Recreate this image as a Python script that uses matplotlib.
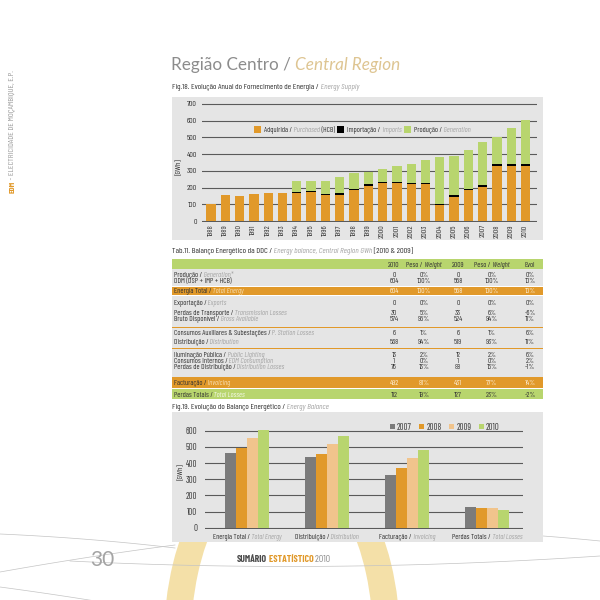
import matplotlib
matplotlib.use("Agg")
import matplotlib.pyplot as plt
import numpy as np
from matplotlib import font_manager
from matplotlib.patches import Annulus, Rectangle

W = H = 600

# ---- Fig.18: annual energy supply (GWh) ----
YEARS = ["1988", "1989", "1990", "1991", "1992", "1993", "1994", "1995", "1996",
         "1997", "1998", "1999", "2000", "2001", "2002", "2003", "2004", "2005",
         "2006", "2007", "2008", "2009", "2010"]
PURCHASED = [100, 155, 150, 163, 167, 167, 165, 175, 155, 158, 185, 212, 225,
             225, 222, 222, 93, 143, 183, 204, 327, 327, 327]
IMPORTS = [0, 0, 0, 0, 0, 0, 7, 7, 8, 8, 7, 8, 7, 7, 8, 8, 8, 10, 7, 10, 12, 12, 12]
GENERATION = [0, 0, 0, 0, 0, 0, 66, 60, 79, 96, 93, 75, 81, 98, 113, 137, 280,
              238, 237, 256, 161, 219, 265]

# ---- Tab.11: energy balance ----
ROW_PT = ["Produção", "DDM (DSP + IMP + HCB)", "Energia Total", "Exportação",
          "Perdas de Transporte", "Bruto Disponível", "Consumos Auxiliares & Subestações",
          "Distribuição", "Iluminação Pública", "Consumos Internos",
          "Perdas de Distribuição", "Facturação", "Perdas Totais"]
ROW_EN = ["Generation*", "", "Total Energy", "Exports", "Transmission Losses",
          "Gross Available", "P. Station Losses", "Distribution", "Public Lighting",
          "EDM Consumption", "Distribution Losses", "Invoicing", "Total Losses"]
VAL_2010 = [0, 604, 604, 0, 30, 574, 6, 568, 13, 1, 76, 492, 112]
WEIGHT_2010 = [0, 100, 100, 0, 5, 95, 1, 94, 2, 0, 13, 81, 19]
VAL_2009 = [0, 558, 558, 0, 33, 524, 6, 519, 12, 1, 88, 431, 127]
WEIGHT_2009 = [0, 100, 100, 0, 6, 94, 1, 93, 2, 0, 16, 77, 23]
EVOL = [0, 10, 10, 0, -6, 11, 6, 11, 6, 2, -1, 14, -2]

# ---- Fig.19: energy balance evolution ----
BAL_YEARS = ["2007", "2008", "2009", "2010"]
BAL_PT = ["Energia Total", "Distribuição", "Facturação", "Perdas Totais"]
BAL_EN = ["Total Energy", "Distribution", "Invoicing", "Total Losses"]
BAL_VALUES = {
    "2007": [465, 437, 327, 131],
    "2008": [494, 455, 368, 120],
    "2009": [556, 515, 429, 122],
    "2010": [602, 568, 478, 112],
}

ORANGE = "#E1992A"
GREEN = "#B8D56E"
GRAY_BAR = "#7B7B7B"
TAN = "#F1C48C"
PANEL = "#E5E5E5"
DARK = "#333333"
EN_GRAY = "#A5A5A5"


def pick(*names):
    avail = {f.name for f in font_manager.fontManager.ttflist}
    for n in names:
        if n in avail:
            return n
    return "DejaVu Sans"


NARROW = pick("Barlow Condensed", "Barlow Semi Condensed", "Asap Condensed", "Archivo Narrow")
STRETCH = "condensed" if NARROW != "DejaVu Sans" else "normal"
LIGHT = pick("Lato", "Open Sans", "Roboto", "DejaVu Sans")
plt.rcParams["font.family"] = [NARROW, "DejaVu Sans"]
plt.rcParams["font.stretch"] = STRETCH

fig = plt.figure(figsize=(6, 6), dpi=100)
page = fig.add_axes([0, 0, 1, 1])
page.set_xlim(0, W)
page.set_ylim(H, 0)
page.axis("off")
renderer = fig.canvas.get_renderer()


def text_width(s, size, family=None, weight="normal", style="normal"):
    t = page.text(0, 0, s, fontsize=size, weight=weight, style=style,
                  family=family or [NARROW, "DejaVu Sans"], fontstretch=STRETCH)
    w = t.get_window_extent(renderer).width
    t.remove()
    return w


def fit_size(s, target, family=None, weight="normal", cap=None):
    size = 10 * target / text_width(s, 10, family, weight)
    return min(size, cap) if cap else size


# font sizes calibrated on widths
TS = fit_size("Consumos Auxiliares & Subestações / P. Station Losses", 142, cap=6.0)
CAP_S = fit_size("Fig.18. Evolução Anual do Fornecimento de Energia / Energy Supply", 190, cap=6.2)
LEG_S = fit_size("Adquirida / Purchased (HCB)", 72, cap=6.0)
XL_S = fit_size("Energia Total / Total Energy", 70, cap=6.2)
TICK_S = min(TS * 1.05, 6.0)
TICK2_S = min(TS * 1.15, 6.4)


def px_axes(left, top, right, bottom):
    ax = fig.add_axes([left / W, 1 - bottom / H, (right - left) / W, (bottom - top) / H])
    ax.patch.set_alpha(0)
    return ax


def rich_text(x, y, parts, size, ha="left", family=None, zorder=5):
    # parts: (text, color, style, weight); y is the visual centre of capitals
    items = []
    cursor = 0.0
    base = y + 0.49 * size
    for s, color, style, weight in parts:
        t = page.text(x + cursor, base, s, fontsize=size, color=color, style=style,
                      weight=weight, ha="left", va="baseline", zorder=zorder,
                      family=family or [NARROW, "DejaVu Sans"], fontstretch=STRETCH)
        cursor += t.get_window_extent(renderer).width
        items.append(t)
    shift = {"left": 0.0, "center": cursor / 2, "right": cursor}[ha]
    for t in items:
        tx, ty = t.get_position()
        t.set_position((tx - shift, ty))
    return cursor


def bilingual(pt, en, pt_color=DARK, en_color=EN_GRAY):
    if not en:
        return [(pt, pt_color, "normal", "normal")]
    return [(pt + " /", pt_color, "normal", "normal"), (" " + en, en_color, "italic", "normal")]


def legend_item(x, y, color, parts, box, size, gap_in=3.0):
    page.add_patch(Rectangle((x, y - box / 2), box, box, color=color, lw=0, zorder=5))
    return box + gap_in + rich_text(x + box + gap_in, y, parts, size)


def curve(p0, p1, p2):
    t = np.linspace(0, 1, 80)[:, None]
    pts = (1 - t) ** 2 * np.array(p0) + 2 * (1 - t) * t * np.array(p1) + t ** 2 * np.array(p2)
    page.plot(pts[:, 0], pts[:, 1], color="#C4C4C4", lw=0.5, zorder=0.5)


# ---- page decoration ----
page.add_patch(Annulus((282, 640), (118, 200), 27, color="#F4E0A8", lw=0, zorder=0.2))
curve((0, 534), (90, 538), (175, 548))
curve((0, 572), (90, 556), (175, 545))
curve((70, 561), (330, 574), (600, 556))
curve((543, 536), (570, 538), (600, 541))
curve((0, 587), (60, 595), (126, 606))

# left vertical brand text
BRAND_S = fit_size("EDM - ELECTRICIDADE DE MOÇAMBIQUE, E.P.", 138, cap=6.0)
t_edm = page.text(12.3, 193, "EDM", rotation=90, fontsize=BRAND_S, weight="bold",
                  color=ORANGE, ha="center", va="bottom")
h_edm = t_edm.get_window_extent(renderer).height
page.text(12.3, 193 - h_edm, " - ELECTRICIDADE DE MOÇAMBIQUE, E.P.", rotation=90,
          fontsize=BRAND_S, color="#9A9A9A", ha="center", va="bottom")

# title
rich_text(171, 64, [("Região Centro /", "#8C8C8C", "normal", "normal"),
                    (" Central Region", "#DEC592", "italic", "normal")],
          size=12.3, family=[LIGHT, "DejaVu Sans"])

# ---- Fig.18 ----
rich_text(172, 86, bilingual("Fig.18. Evolução Anual do Fornecimento de Energia", "Energy Supply"), CAP_S)
page.add_patch(Rectangle((172, 97), 543 - 172, 240 - 97, color=PANEL, lw=0, zorder=1))
page.text(180, 167, "[GWh]", rotation=90, fontsize=TICK_S, color=DARK, ha="center", va="center", zorder=5)

u1 = 117 / 700
ax1 = px_axes(201.7, 104 - 5 * u1, 536.7, 221 + 5 * u1)
xi = np.arange(len(YEARS))
ax1.bar(xi, PURCHASED, 0.65, color=ORANGE, zorder=2)
ax1.bar(xi, IMPORTS, 0.65, bottom=PURCHASED, color="black", zorder=2)
ax1.bar(xi, GENERATION, 0.65, bottom=np.add(PURCHASED, IMPORTS), color=GREEN, zorder=2)
ax1.set_xlim(-0.65, 22.78)
ax1.set_ylim(-5, 705)
ax1.set_yticks(range(0, 701, 100))
ax1.set_xticks(xi, YEARS, rotation=90)
ax1.grid(axis="y", color="#5A5A5A", lw=0.8)
ax1.set_axisbelow(True)
for s in ax1.spines.values():
    s.set_visible(False)
ax1.tick_params(length=0, labelsize=TICK_S, colors=DARK)
ax1.tick_params(axis="y", pad=3.4)
ax1.tick_params(axis="x", pad=1.8)

lx = 254
for color, parts in [
    (ORANGE, bilingual("Adquirida", "Purchased") + [(" (HCB)", DARK, "normal", "normal")]),
    ("black", bilingual("Importação", "Imports")),
    (GREEN, bilingual("Produção", "Generation")),
]:
    lx += legend_item(lx, 129, color, parts, box=7, size=LEG_S) + 2.5

# ---- Tab.11 ----
rich_text(172, 250, bilingual("Tab.11. Balanço Energético da DDC", "Energy balance, Central Region GWh")
          + [(" [2010 & 2009]", DARK, "normal", "normal")], CAP_S)

BLOCKS = [(259, 269, GREEN), (269, 286, PANEL), (286.5, 295.2, ORANGE), (295.8, 326.6, PANEL),
          (326.6, 327.8, ORANGE), (327.8, 348.0, PANEL), (348.0, 349.2, ORANGE),
          (349.2, 377.0, PANEL), (377.3, 387.7, ORANGE), (389.0, 399.0, GREEN)]
for top, bottom, color in BLOCKS:
    page.add_patch(Rectangle((172, top), 543 - 172, bottom - top, color=color, lw=0, zorder=1))

ROW_Y = [273.9, 280.1, 290.8, 302.5, 312.0, 318.3, 332.3, 341.7, 354.0, 360.0, 366.0, 382.5, 394.0]
ROW_KIND = ["gray", "gray", "orange", "gray", "gray", "gray", "gray", "gray", "gray",
            "gray", "gray", "orange", "green"]
COL_X = [394, 424, 458, 492, 530]

header = [[("2010", DARK, "normal", "normal")],
          bilingual("Peso", "Weight", en_color=DARK),
          [("2009", DARK, "normal", "normal")],
          bilingual("Peso", "Weight", en_color=DARK),
          [("Evol", DARK, "normal", "normal")]]
for cx, parts in zip(COL_X, header):
    rich_text(cx, 264, parts, TS, ha="center")

for i, y in enumerate(ROW_Y):
    kind = ROW_KIND[i]
    en_col = {"gray": EN_GRAY, "orange": "#F6DDB0", "green": "#F3F8E8"}[kind]
    num_col = "#FCEFD8" if kind == "orange" else DARK
    rich_text(173.5, y, bilingual(ROW_PT[i], ROW_EN[i], en_color=en_col), TS)
    cells = [f"{VAL_2010[i]}", f"{WEIGHT_2010[i]}%", f"{VAL_2009[i]}",
             f"{WEIGHT_2009[i]}%", f"{EVOL[i]}%"]
    for cx, s in zip(COL_X, cells):
        rich_text(cx, y, [(s, num_col, "normal", "normal")], TS, ha="center")

# ---- Fig.19 ----
rich_text(172, 406, bilingual("Fig.19. Evolução do Balanço Energético", "Energy Balance"), CAP_S)
page.add_patch(Rectangle((172, 412), 543 - 172, 542 - 412, color=PANEL, lw=0, zorder=1))
page.text(181.5, 471.7, "[GWh]", rotation=90, fontsize=TICK_S, color=DARK, ha="center", va="center", zorder=5)

u2 = 97 / 600
ax2 = px_axes(205, 430.7 - 5 * u2, 523, 527.7 + 5 * u2)
gi = np.arange(len(BAL_PT))
bw = 0.1375
bar_colors = [GRAY_BAR, ORANGE, TAN, GREEN]
for k, yr in enumerate(BAL_YEARS):
    ax2.bar(gi + (k - 1.5) * bw, BAL_VALUES[yr], bw, color=bar_colors[k], zorder=2)
ax2.set_xlim(-0.525, 3.45)
ax2.set_ylim(-5, 605)
ax2.set_yticks(range(0, 601, 100))
ax2.set_xticks([])
ax2.grid(axis="y", color="#5A5A5A", lw=0.8)
ax2.set_axisbelow(True)
for s in ax2.spines.values():
    s.set_visible(False)
ax2.tick_params(length=0, labelsize=TICK2_S, colors=DARK)
ax2.tick_params(axis="y", pad=5.5)

for g in gi:
    gx = ax2.transData.transform((g, 0))[0]
    rich_text(gx, 536.7, bilingual(BAL_PT[g], BAL_EN[g]), XL_S, ha="center")

for k, (c, yr) in enumerate(zip(bar_colors, BAL_YEARS)):
    legend_item(389.5 + 29.7 * k, 426.8, c, [(yr, DARK, "normal", "normal")],
                box=5, size=TICK2_S, gap_in=2.5)

# ---- footer ----
page.text(102, 560, "30", fontsize=15, family=[LIGHT, "DejaVu Sans"], weight="normal",
          color="#A4A4A4", ha="center", va="center", zorder=5)
FOOT_S = fit_size("SUMÁRIO ESTATÍSTICO 2010", 95.5, weight="bold", cap=7.0)
rich_text(236.5, 558.7, [("SUMÁRIO", "#4A4A4A", "normal", "bold"),
                         (" ESTATÍSTICO", ORANGE, "normal", "bold"),
                         (" 2010", "#8A8A8A", "normal", "normal")], FOOT_S)

fig.savefig("out.png", dpi=100)
